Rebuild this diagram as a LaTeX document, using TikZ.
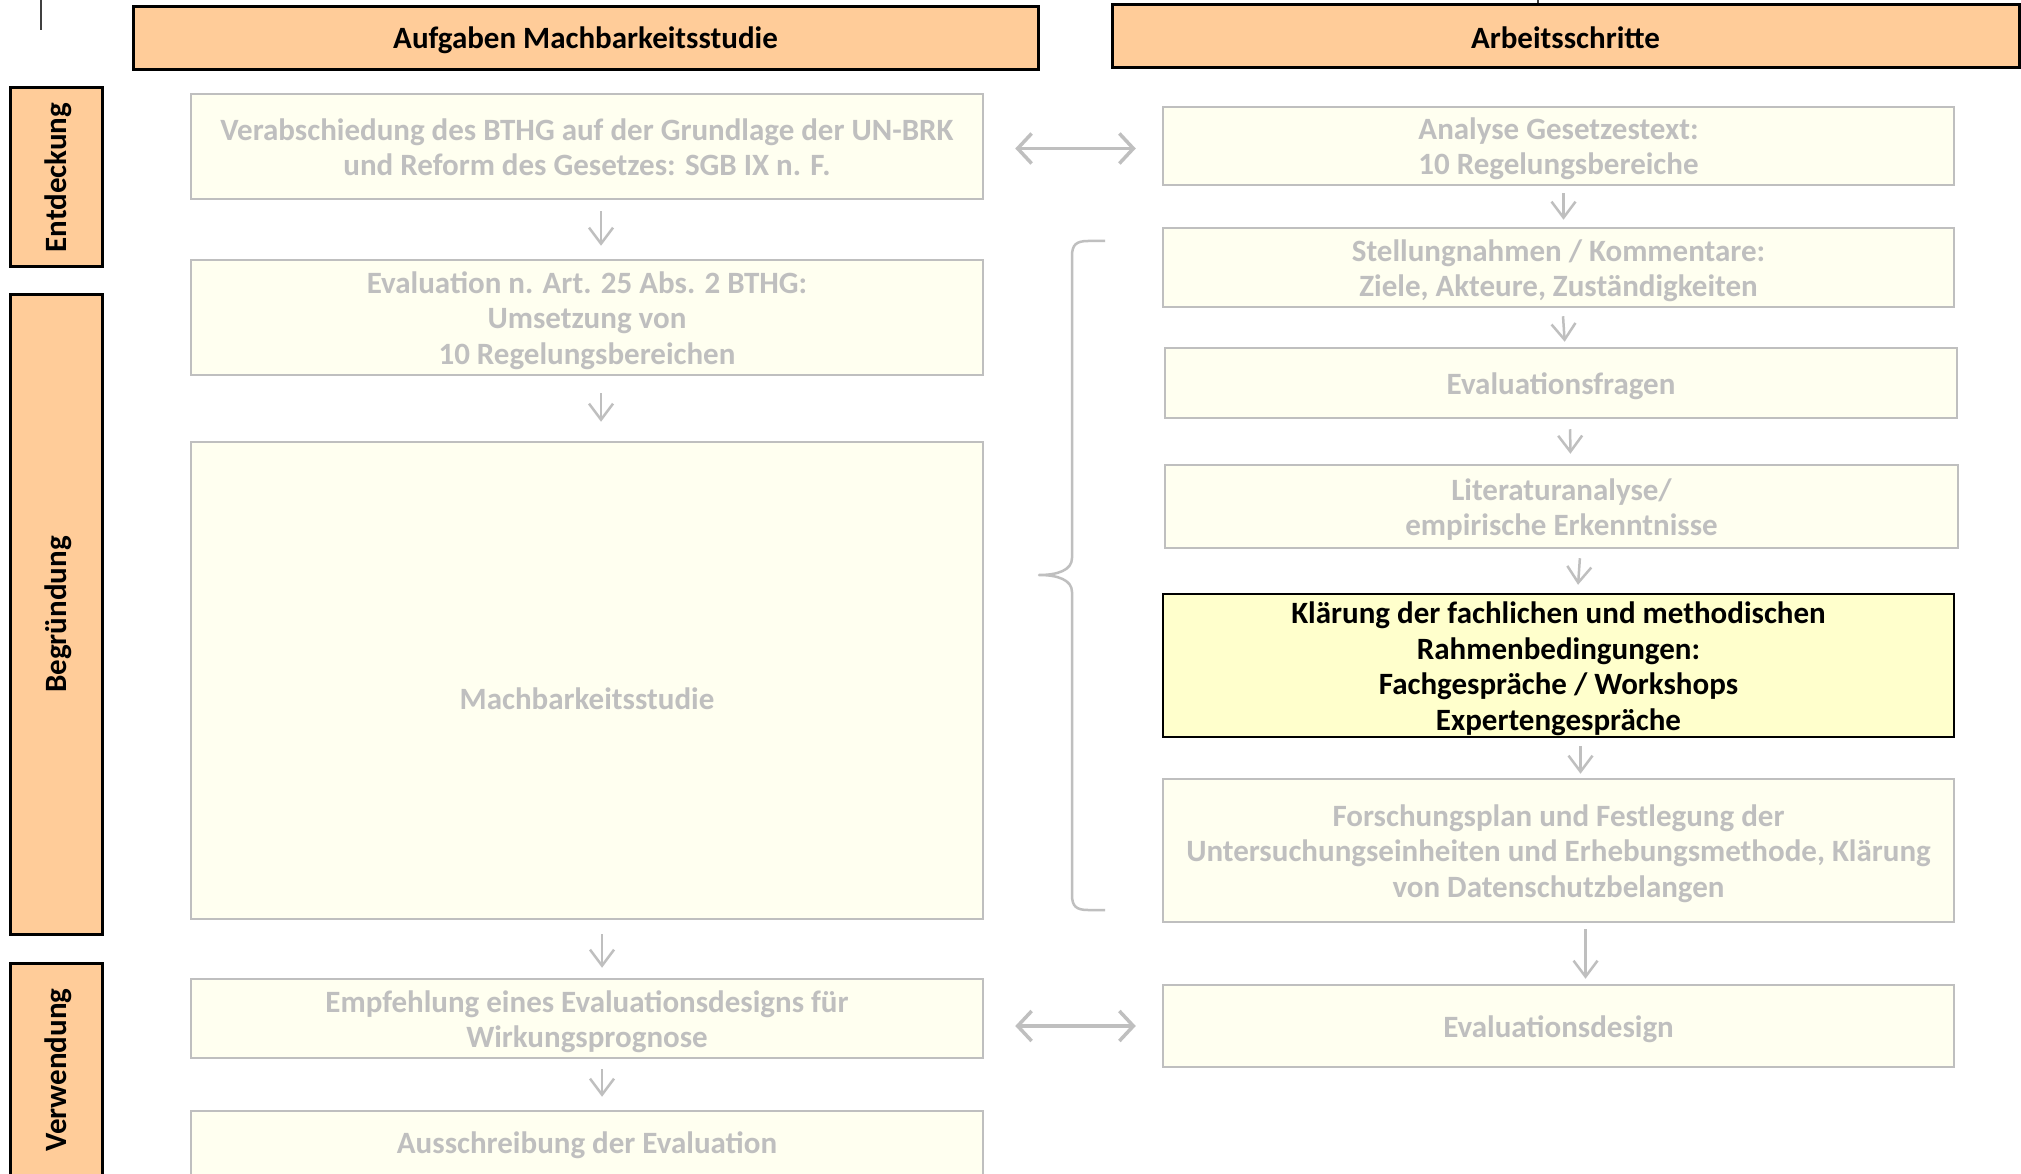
\documentclass[tikz,border=0pt]{standalone}
\usepackage{fontspec}
\setmainfont{Carlito}
\usetikzlibrary{arrows.meta}
\definecolor{hdr}{HTML}{FFCC99}
\definecolor{boxfill}{HTML}{FFFFF0}
\definecolor{gry}{HTML}{BFBFBF}
\definecolor{hl}{HTML}{FFFFCC}
\begin{document}
\begin{tikzpicture}[x=1pt,y=-1pt,
  every node/.style={font=\fontsize{31}{35.5}\selectfont\bfseries, align=center, inner sep=0pt},
  hdrbox/.style={draw=black, line width=3pt, fill=hdr},
  graybox/.style={draw=gry, line width=2.5pt, fill=boxfill},
  hlbox/.style={draw=black, line width=2.5pt, fill=hl},
  gtext/.style={text=gry},
  btext/.style={text=black},
  arr/.style={draw=gry, line width=2.5pt, -{Straight Barb[length=16pt,width=24pt]}},
  darr/.style={draw=gry, line width=3.5pt, {Straight Barb[length=14pt,width=30pt]}-{Straight Barb[length=14pt,width=30pt]}}
]
\useasboundingbox (0,0) rectangle (2021,1174);
\clip (0,0) rectangle (2021,1174);
\fill[white] (0,0) rectangle (2021,1174);

% stray marks
\coordinate (m1a) at (41,0); \coordinate (m1b) at (41,30);
\draw[line width=1.5pt, black!75] (m1a) -- (m1b);
\coordinate (m2a) at (1538,0); \coordinate (m2b) at (1538,5);
\draw[line width=1.5pt, black!75] (m2a) -- (m2b);

% headers
\node[hdrbox, minimum width=905pt, minimum height=63pt] (h1) at (585.5,38.5) {};
\node[btext] (h1t) at ([yshift=-2pt]h1.center) {Aufgaben Machbarkeitsstudie};
\node[hdrbox, minimum width=907pt, minimum height=63pt] (h2) at (1565.5,36.5) {};
\node[btext] (h2t) at ([yshift=-1pt]h2.center) {Arbeitsschritte};

% phase labels
\node[hdrbox, minimum width=92pt, minimum height=179pt] (ph1) at (56,177.5) {};
\node[btext, rotate=90] (ph1t) at ([xshift=2.5pt]ph1.center) {Entdeckung};
\node[hdrbox, minimum width=92pt, minimum height=639pt] (ph2) at (56,614.5) {};
\node[btext, rotate=90] (ph2t) at ([xshift=2.5pt]ph2.center) {Begründung};
\node[hdrbox, minimum width=92pt, minimum height=214pt] (ph3) at (56,1070) {};
\node[btext, rotate=90] (ph3t) at ([xshift=2.5pt]ph3.center) {Verwendung};

% left column
\node[graybox, minimum width=792pt, minimum height=105pt] (l1) at (587,146.5) {};
\node[gtext] (l1t) at ([yshift=-0.5pt]l1.center) {Verabschiedung des BTHG auf der Grundlage der UN-BRK\\und Reform des Gesetzes: SGB IX n. F.};
\node[graybox, minimum width=792pt, minimum height=115pt] (l2) at (587,317.5) {};
\node[gtext] (l2t) at ([yshift=-3pt]l2.center) {Evaluation n. Art. 25 Abs. 2 BTHG:\\Umsetzung von\\10 Regelungsbereichen};
\node[graybox, minimum width=792pt, minimum height=477pt] (l3) at (587,680.5) {};
\node[gtext] (l3t) at ([yshift=-18pt]l3.center) {Machbarkeitsstudie};
\node[graybox, minimum width=792pt, minimum height=79pt] (l4) at (587,1018.5) {};
\node[gtext] (l4t) at ([yshift=-3pt]l4.center) {Empfehlung eines Evaluationsdesigns für\\Wirkungsprognose};
\node[graybox, minimum width=792pt, minimum height=65pt] (l5) at (587,1143.5) {};
\node[gtext] (l5t) at ([yshift=-2pt]l5.center) {Ausschreibung der Evaluation};

% right column
\node[graybox, minimum width=791pt, minimum height=78pt] (r1) at (1558.5,146) {};
\node[gtext] (r1t) at ([yshift=-3pt]r1.center) {Analyse Gesetzestext:\\10 Regelungsbereiche};
\node[graybox, minimum width=791pt, minimum height=79pt] (r2) at (1558.5,267.5) {};
\node[gtext] (r2t) at ([yshift=-3pt]r2.center) {Stellungnahmen / Kommentare:\\Ziele, Akteure, Zuständigkeiten};
\node[graybox, minimum width=792pt, minimum height=70pt] (r3) at (1561,383) {};
\node[gtext] (r3t) at ([yshift=-3pt]r3.center) {Evaluationsfragen};
\node[graybox, minimum width=793pt, minimum height=83pt] (r4) at (1561.5,506.5) {};
\node[gtext] (r4t) at ([yshift=-3pt]r4.center) {Literaturanalyse/\\empirische Erkenntnisse};
\node[hlbox, minimum width=791pt, minimum height=143pt] (r5) at (1558.5,665.5) {};
\node[btext] (r5t) at ([yshift=-3pt]r5.center) {Klärung der fachlichen und methodischen\\Rahmenbedingungen:\\Fachgespräche / Workshops\\Expertengespräche};
\node[graybox, minimum width=791pt, minimum height=143pt] (r6) at (1558.5,850.5) {};
\node[gtext] (r6t) at ([yshift=-3pt]r6.center) {Forschungsplan und Festlegung der\\Untersuchungseinheiten und Erhebungsmethode, Klärung\\von Datenschutzbelangen};
\node[graybox, minimum width=791pt, minimum height=82pt] (r7) at (1558.5,1026) {};
\node[gtext] (r7t) at ([yshift=-3pt]r7.center) {Evaluationsdesign};

% left arrows
\draw[arr, shorten <=11pt, shorten >=13pt] ([xshift=14pt]l1.south) -- ([xshift=14pt]l2.north);
\draw[arr, shorten <=17pt, shorten >=19pt] ([xshift=14pt]l2.south) -- ([xshift=14pt]l3.north);
\draw[arr, shorten <=14pt, shorten >=10pt] ([xshift=15pt]l3.south) -- ([xshift=15pt]l4.north);
\draw[arr, shorten <=10pt, shorten >=13pt] ([xshift=15pt]l4.south) -- ([xshift=15pt]l5.north);

% right arrows
\draw[arr, shorten <=7pt, shorten >=7pt] ([xshift=5pt]r1.south) -- ([xshift=5pt]r2.north);
\draw[arr, shorten <=8pt, shorten >=5pt] ([xshift=4pt]r2.south) -- ([xshift=4pt]r3.north);
\draw[arr, shorten <=10pt, shorten >=10pt] ([xshift=9pt]r3.south) -- ([xshift=9pt]r4.north);
\draw[arr, shorten <=9pt, shorten >=8pt] ([xshift=19pt]r4.south) -- ([xshift=19pt]r5.north);
\draw[arr, shorten <=8pt, shorten >=4pt] ([xshift=22pt]r5.south) -- ([xshift=22pt]r6.north);
\draw[arr, shorten <=6pt, shorten >=5pt] ([xshift=27pt]r6.south) -- ([xshift=27pt]r7.north);

% double arrows
\draw[darr, shorten <=31pt, shorten >=26pt] ([yshift=-2pt]l1.east) -- ([yshift=-2pt]l1.east -| r1.west);
\draw[darr, shorten <=31pt, shorten >=26pt] (l4.east |- r7.west) -- (r7.west);

% brace
\coordinate (bt) at (1105,241);
\coordinate (bm) at (1039,575);
\coordinate (bb) at (1105,910);
\draw[gry, line width=2.5pt, line join=round]
  (bt) -- (1088,241) .. controls (1076,241) and (1072,245) .. (1072,256)
  -- (1072,558) .. controls (1072,570) and (1058,575) .. (bm)
  .. controls (1058,575) and (1072,580) .. (1072,592)
  -- (1072,895) .. controls (1072,906) and (1076,910) .. (1088,910) -- (bb);
\end{tikzpicture}
\end{document}
